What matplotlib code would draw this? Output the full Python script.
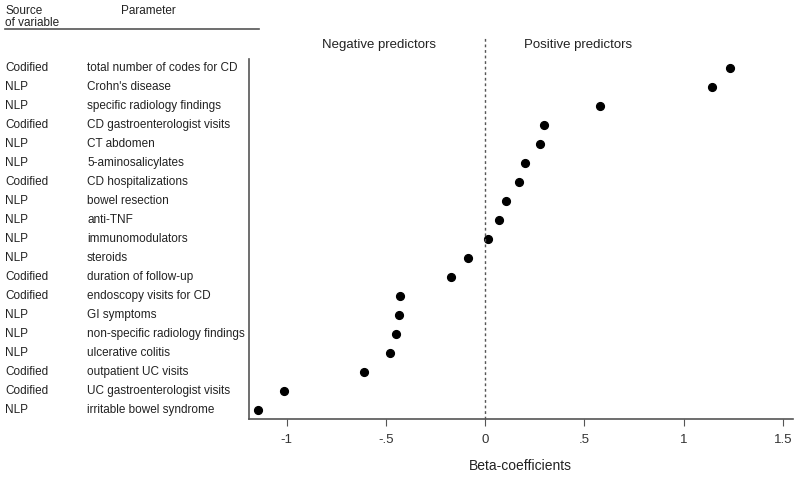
import matplotlib.pyplot as plt
from matplotlib.transforms import blended_transform_factory

plt.rcParams['font.family'] = ['Liberation Sans', 'DejaVu Sans']

# predictors, top to bottom
sources = ['Codified', 'NLP', 'NLP', 'Codified', 'NLP', 'NLP', 'Codified', 'NLP', 'NLP', 'NLP',
           'NLP', 'Codified', 'Codified', 'NLP', 'NLP', 'NLP', 'Codified', 'Codified', 'NLP']
params = ['total number of codes for CD', "Crohn's disease", 'specific radiology findings',
          'CD gastroenterologist visits', 'CT abdomen', '5-aminosalicylates', 'CD hospitalizations',
          'bowel resection', 'anti-TNF', 'immunomodulators', 'steroids', 'duration of follow-up',
          'endoscopy visits for CD', 'GI symptoms', 'non-specific radiology findings',
          'ulcerative colitis', 'outpatient UC visits', 'UC gastroenterologist visits',
          'irritable bowel syndrome']
betas = [1.234, 1.145, 0.578, 0.297, 0.277, 0.203, 0.169, 0.104, 0.07, 0.013,
         -0.087, -0.17, -0.427, -0.432, -0.45, -0.477, -0.611, -1.014, -1.142]

xticks = [-1, -0.5, 0, 0.5, 1, 1.5]
xticklabels = ['-1', '-.5', '0', '.5', '1', '1.5']

fig = plt.figure(figsize=(8, 4.78), dpi=100)
ax = fig.add_axes([0.311, 0.1234, 0.68, 0.7532])

rows = list(range(len(params)))
ax.plot(betas, rows, 'o', color='black', ms=5.6, linestyle='none')

ax.set_xlim(-1.19, 1.55)
ax.set_ylim(18.5, -0.5)

# zero line, reaching above the plot
ax.axvline(0, ymin=0, ymax=1.058, color='#555555', linestyle=(0, (2, 2)), lw=1, clip_on=False)
ax.text(-0.535, -1.25, 'Negative predictors', ha='center', va='center', fontsize=9.5, color='#222222')
ax.text(0.47, -1.25, 'Positive predictors', ha='center', va='center', fontsize=9.5, color='#222222')

ax.spines['top'].set_visible(False)
ax.spines['right'].set_visible(False)
for s in ['left', 'bottom']:
    ax.spines[s].set_color('#555555')
    ax.spines[s].set_linewidth(1.2)
ax.set_yticks([])
ax.set_xticks(xticks)
ax.set_xticklabels(xticklabels)
ax.tick_params(axis='x', colors='#555555', labelcolor='#333333', labelsize=9.5, length=5, pad=6)
ax.set_xlabel('Beta-coefficients', fontsize=10, color='#222222', labelpad=9)

# row labels on the left
tr = blended_transform_factory(fig.transFigure, ax.transData)
for i in rows:
    ax.text(5 / 800, i, sources[i], transform=tr, ha='left', va='center', fontsize=8.5, color='#222222')
    ax.text(87 / 800, i, params[i], transform=tr, ha='left', va='center', fontsize=8.5, color='#222222')

# column header
fig.text(5 / 800, 1 - 11 / 478, 'Source', ha='left', va='center', fontsize=8.5, color='#222222')
fig.text(5 / 800, 1 - 23 / 478, 'of variable', ha='left', va='center', fontsize=8.5, color='#222222')
fig.text(121 / 800, 1 - 11 / 478, 'Parameter', ha='left', va='center', fontsize=8.5, color='#222222')
fig.add_artist(plt.Line2D([5 / 800, 259 / 800], [1 - 28.5 / 478, 1 - 28.5 / 478],
                          transform=fig.transFigure, color='#555555', lw=1.2))

fig.savefig('out.png', dpi=100)
